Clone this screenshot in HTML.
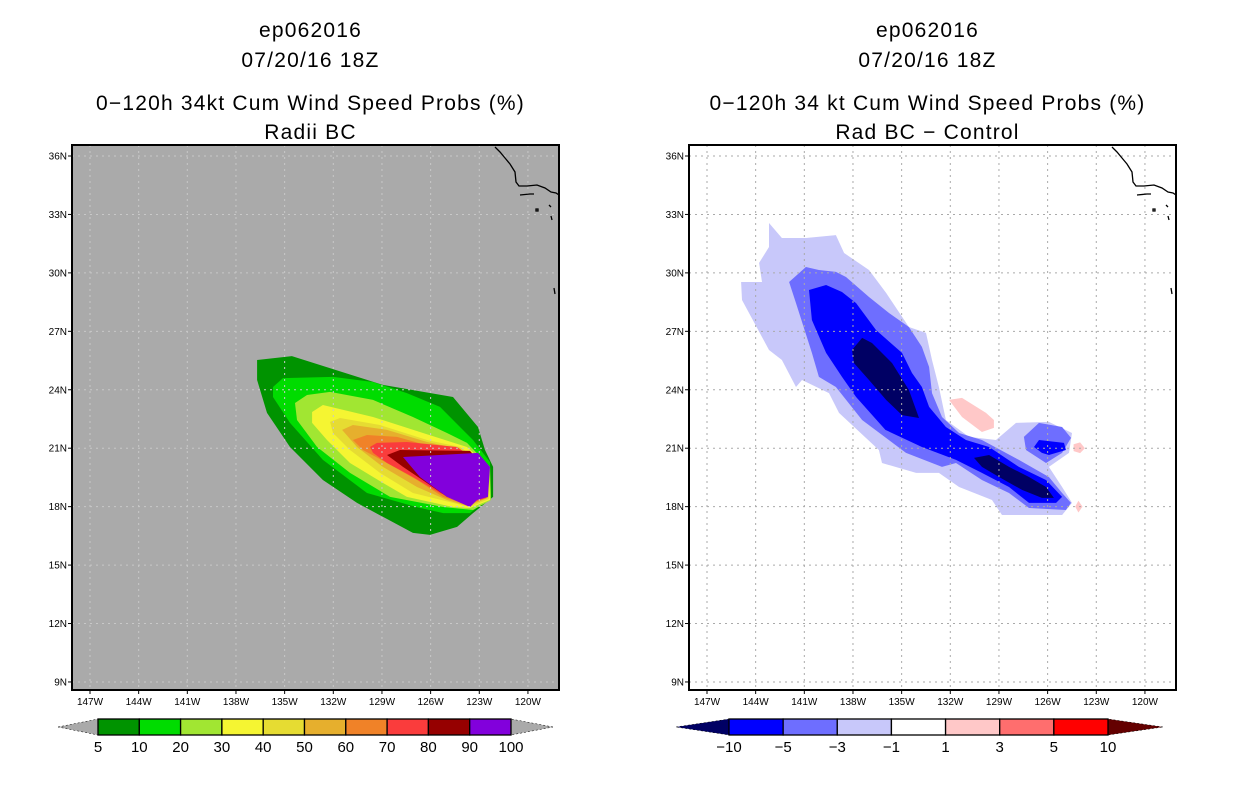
<!DOCTYPE html>
<html><head><meta charset="utf-8"><style>
body{margin:0;background:#fff;width:1236px;height:800px;overflow:hidden}
svg{display:block}
text{font-family:"Liberation Sans",sans-serif}
</style></head><body>
<svg id="root" width="1236" height="800" viewBox="0 0 1236 800"></svg>
<script>
const lonTicks=[-147,-144,-141,-138,-135,-132,-129,-126,-123,-120];
const latTicks=[9,12,15,18,21,24,27,30,33,36];
// Left panel contour polygons [lon,lat]
const probLevels=[5,10,20,30,40,50,60,70,80,90];
const probColors=['#009300','#00dc00','#a1e632','#f5f532','#e6dc32','#e6af2d','#f08228','#fa3c3c','#960000','#8200dc'];
const probPolys=[
[[-136.7,25.53],[-134.55,25.73],[-128.94,24.25],[-124.62,23.63],[-123.08,22.09],[-122.65,20.91],[-122.15,20.04],[-122.15,18.5],[-123.39,17.67],[-124.37,16.96],[-126.04,16.55],[-127.09,16.65],[-130.54,18.19],[-132.64,19.37],[-134.67,21.06],[-136.09,22.81],[-136.7,24.5]],
[[-135.72,23.63],[-135.72,24.14],[-135.1,24.6],[-132.02,24.66],[-129.55,24.4],[-127.46,23.83],[-125.42,23.12],[-124.19,22.09],[-123.39,21.42],[-122.34,20.29],[-122.28,18.5],[-123.57,17.67],[-125.22,17.67],[-126.89,17.98],[-129.92,18.7],[-132.64,20.4],[-134.67,22.3]],
[[-134.36,23.32],[-133.62,23.73],[-132.2,23.89],[-129.55,23.48],[-127.09,22.6],[-124.99,21.78],[-123.76,21.27],[-122.34,20.04],[-122.28,18.34],[-123.39,17.83],[-125.22,17.98],[-128.5,18.5],[-130.97,19.73],[-133.0,21.06],[-134.24,22.45]],
[[-133.31,22.86],[-132.64,23.22],[-129.55,22.6],[-126.47,21.78],[-123.76,21.06],[-122.4,20.04],[-122.34,18.34],[-123.57,17.93],[-124.62,17.98],[-127.46,18.5],[-128.94,19.22],[-130.97,20.24],[-132.39,21.42],[-133.31,22.3]],
[[-132.2,22.35],[-131.59,22.55],[-129.12,22.19],[-126.22,21.42],[-124.19,21.06],[-122.46,20.04],[-122.4,18.39],[-123.57,17.98],[-124.62,18.19],[-127.09,18.7],[-129.12,19.73],[-130.97,20.91],[-132.02,21.78]],
[[-131.46,21.94],[-130.79,22.19],[-128.69,21.94],[-126.22,21.32],[-124.19,20.96],[-122.52,20.04],[-122.46,18.45],[-123.7,18.03],[-124.99,18.34],[-126.84,19.01],[-128.94,20.04],[-130.54,21.06]],
[[-130.79,21.42],[-129.92,21.68],[-128.07,21.58],[-125.85,21.06],[-124.37,20.91],[-122.59,20.04],[-122.52,18.45],[-123.76,18.09],[-125.24,18.5],[-126.84,19.37],[-128.69,20.24],[-130.17,20.91]],
[[-129.74,21.06],[-129.31,21.27],[-127.46,21.32],[-124.37,21.06],[-122.65,20.04],[-122.59,18.45],[-123.82,18.14],[-125.42,18.7],[-127.09,19.52],[-128.69,20.24],[-129.55,20.76]],
[[-128.69,20.65],[-127.89,20.91],[-123.57,20.86],[-122.71,20.04],[-122.65,18.5],[-123.82,18.19],[-124.99,18.5],[-126.22,19.21],[-127.7,20.04]],
[[-127.7,20.55],[-123.08,20.76],[-122.34,20.04],[-122.46,18.5],[-123.14,18.34],[-123.57,17.98],[-124.99,18.5],[-126.66,19.52]]
];
// Right panel difference contours
const diffColors=['#c8c8fa','#6e6eff','#0000ff','#000064','#ffc8c8'];
const diffLight=[
[[-143.18,32.56],[-142.38,31.79],[-140.9,31.79],[-139.05,31.94],[-138.55,31.02],[-137.01,30.15],[-135.96,28.97],[-134.55,27.22],[-133.5,26.92],[-133.13,25.53],[-132.7,24.14],[-132.27,22.45],[-130.85,21.58],[-129.18,21.42],[-127.95,22.3],[-125.92,22.35],[-124.5,21.78],[-124.68,20.76],[-125.92,20.04],[-125.11,19.01],[-124.5,18.19],[-125.11,17.57],[-128.81,17.57],[-129.43,18.34],[-131.46,19.01],[-132.7,19.73],[-134.11,19.73],[-136.21,20.24],[-136.4,20.91],[-138.86,22.81],[-139.48,23.83],[-141.14,24.5],[-141.51,24.14],[-142.38,25.53],[-143.18,26.04],[-144.84,28.61],[-144.9,29.53],[-143.61,29.53],[-143.79,30.51],[-143.18,31.33]]
];
const diffMed=[
[[-141.94,29.53],[-140.9,30.3],[-140.1,30.15],[-139.05,30.05],[-138.43,29.79],[-137.01,28.76],[-135.78,27.94],[-134.55,27.22],[-133.75,26.2],[-133.31,25.17],[-133.13,23.83],[-132.51,22.6],[-131.46,21.78],[-130.05,21.42],[-127.77,20.4],[-125.92,19.52],[-125.11,18.7],[-124.56,18.19],[-124.87,17.83],[-127.15,17.93],[-128.38,18.7],[-130.05,19.37],[-131.65,20.24],[-132.51,20.04],[-134.73,20.76],[-137.44,22.45],[-139.05,24.14],[-140.1,24.66],[-140.53,25.89],[-141.51,28.45]],
[[-127.46,21.58],[-126.53,22.3],[-125.11,22.09],[-124.56,21.53],[-125.11,20.76],[-126.1,20.24],[-127.33,20.91]]
];
const diffBlue=[
[[-140.71,29.12],[-139.66,29.38],[-138.68,29.02],[-137.81,28.45],[-136.58,27.07],[-134.98,25.89],[-134.36,24.86],[-133.75,24.14],[-133.31,23.12],[-132.27,22.09],[-131.03,21.42],[-129.61,21.06],[-127.77,20.04],[-126.1,19.37],[-125.11,18.5],[-125.48,18.19],[-127.15,18.19],[-128.38,19.01],[-130.05,19.73],[-131.65,20.4],[-133.75,21.06],[-136.0,21.94],[-137.81,23.63],[-138.68,24.66],[-139.66,25.89],[-140.53,27.58]],
[[-126.84,21.06],[-126.53,21.42],[-124.99,21.27],[-124.87,20.91],[-125.92,20.65],[-126.35,20.76]]
];
const diffNavy=[
[[-138.06,26.04],[-137.44,26.66],[-136.83,26.4],[-135.59,25.37],[-134.55,23.99],[-133.93,22.55],[-134.98,22.7],[-135.96,23.48],[-137.01,24.5],[-137.94,25.37]],
[[-130.54,20.5],[-129.61,20.65],[-128.38,20.04],[-127.15,19.52],[-126.1,19.01],[-125.61,18.45],[-126.35,18.45],[-127.58,18.86],[-129.0,19.52],[-130.05,20.04]]
];
const diffPink=[
[[-132.08,23.48],[-131.28,23.58],[-129.8,22.81],[-129.31,22.45],[-129.31,22.04],[-130.05,21.83],[-131.28,22.6]],
[[-124.4,21.2],[-124.0,21.3],[-123.7,21.0],[-124.0,20.75],[-124.4,20.85]],
[[-124.1,18.3],[-123.85,18.0],[-124.1,17.7],[-124.3,18.0]]
];
const probCbLabels=['5','10','20','30','40','50','60','70','80','90','100'];
const diffCbLabels=['\u221210','\u22125','\u22123','\u22121','1','3','5','10'];
const diffCbColors=['#0000ff','#6e6eff','#c8c8fa','#ffffff','#ffc8c8','#ff6e6e','#ff0000'];

const NS='http://www.w3.org/2000/svg';
const root=document.getElementById('root');
function mk(tag,attrs,parent){const e=document.createElementNS(NS,tag);for(const k in attrs)e.setAttribute(k,attrs[k]);(parent||root).appendChild(e);return e;}
const FY0=145,FY1=690,FW=487;
const px=16.22, py=19.48;
function makeAxes(x0){
  return {x:lon=>x0+18+(lon+147)*px, y:lat=>156+(36-lat)*py};
}
function poly(ax,pts,fill,g){
  return mk('polygon',{points:pts.map(p=>ax.x(p[0]).toFixed(1)+','+ax.y(p[1]).toFixed(1)).join(' '),fill:fill},g);
}
function panel(x0,bg,gridCol,name,titles,drawFn){
  const g=mk('g',{});
  
  
  const ax=makeAxes(x0);
  const cx=x0+FW/2-5;
  titles.forEach((t,i)=>{
    const tt=mk('text',{x:cx,y:[37,67,110,139][i],'font-size':21,'text-anchor':'middle','letter-spacing':'1.2'},g);
    tt.textContent=t;
    
    
  });
  const clip=mk('clipPath',{id:'clip'+x0},g);
  mk('rect',{x:x0,y:FY0,width:FW,height:FY1-FY0},clip);
  const bgr=mk('rect',{x:x0,y:FY0,width:FW,height:FY1-FY0,fill:bg},g);
  
  
  const cg=mk('g',{'clip-path':'url(#clip'+x0+')'},g);
  drawFn(ax,cg);
  lonTicks.forEach(l=>{
    const gl=mk('line',{x1:ax.x(l),x2:ax.x(l),y1:FY0,y2:FY1,stroke:gridCol,'stroke-width':1,'stroke-dasharray':'2,4'},cg);
    
    
    mk('line',{x1:ax.x(l),x2:ax.x(l),y1:FY1,y2:FY1+4,stroke:'#000'},g);
    const t=mk('text',{x:ax.x(l),y:FY1+15,'font-size':10,'text-anchor':'middle'},g);
    t.textContent=(-l)+'W';
    
    
  });
  latTicks.forEach(l=>{
    const gl=mk('line',{x1:x0,x2:x0+FW,y1:ax.y(l),y2:ax.y(l),stroke:gridCol,'stroke-width':1,'stroke-dasharray':'2,4'},cg);
    
    
    mk('line',{x1:x0-4,x2:x0,y1:ax.y(l),y2:ax.y(l),stroke:'#000'},g);
    const t=mk('text',{x:x0-5,y:ax.y(l)+3.5,'font-size':10,'text-anchor':'end'},g);
    t.textContent=l+'N';
    
    
  });
  const coast=mk('path',{d:'M495,147 L500,152 L505,158 L510,164 L515,172 L516,182 L519,186 L527,186 L537,185 L545,188 L551,192 L556,193 L559,195 M520,195 L530,194 L534,194 M536,209 l2,0 l0,2 l-2,0z M549,205 l2,2 M551,216 l1,4 M554,288 l1,6',stroke:'#000','stroke-width':1.3,fill:'none',transform:'translate('+(x0-72)+',0)'},cg);
  
  
  const fr=mk('rect',{x:x0,y:FY0,width:FW,height:FY1-FY0,fill:'none',stroke:'#000','stroke-width':2},g);
  
  
}
panel(72,'#aaaaaa','#c8c8c8','left-map',['ep062016','07/20/16 18Z','0\u2212120h 34kt Cum Wind Speed Probs (%)','Radii BC'],(ax,g)=>{
  probPolys.forEach((p,i)=>{
    const e=poly(ax,p,probColors[i],g);
    
    
  });
});
panel(689,'#ffffff','#aaaaaa','right-map',['ep062016','07/20/16 18Z','0\u2212120h 34 kt Cum Wind Speed Probs (%)','Rad BC \u2212 Control'],(ax,g)=>{
  [[diffLight,0,'contour-minus1'],[diffMed,1,'contour-minus3'],[diffBlue,2,'contour-minus5'],[diffNavy,3,'contour-minus10'],[diffPink,4,'contour-plus1']].forEach(([set,ci,nm])=>{
    set.forEach(p=>{
      const e=poly(ax,p,diffColors[ci],g);
      
      
    });
  });
});
function colorbar(tipL,x0,x1,tipR,colors,labels,lc,rc,name){
  const g=mk('g',{});
  
  
  const y0=719,y1=735,ym=727;
  mk('polygon',{points:`${tipL},${ym} ${x0},${y0} ${x0},${y1}`,fill:lc,stroke:'#000','stroke-width':0.5,'stroke-dasharray':'2,2'},g);
  mk('polygon',{points:`${tipR},${ym} ${x1},${y0} ${x1},${y1}`,fill:rc,stroke:'#000','stroke-width':0.5,'stroke-dasharray':'2,2'},g);
  const w=(x1-x0)/colors.length;
  colors.forEach((c,i)=>{
    const r=mk('rect',{x:x0+i*w,y:y0,width:w,height:y1-y0,fill:c,stroke:'#000','stroke-width':1.3},g);
    
    
  });
  labels.forEach((l,i)=>{
    const t=mk('text',{x:x0+i*w,y:752,'font-size':15,'text-anchor':'middle'},g);
    t.textContent=l;
    
    
  });
}
colorbar(58,98,511,553,probColors,probCbLabels,'#aaaaaa','#aaaaaa','prob-colorbar');
colorbar(676,729,1108,1163,diffCbColors,diffCbLabels,'#000064','#640000','diff-colorbar');
</script>
</body></html>
